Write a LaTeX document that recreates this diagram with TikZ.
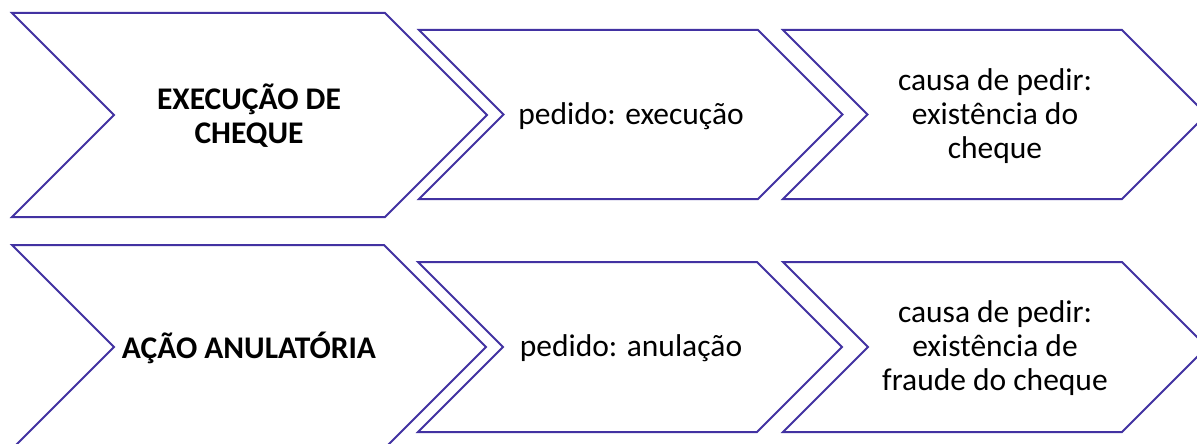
\documentclass[tikz,border=0pt]{standalone}
\usepackage{fontspec}
\setmainfont{Carlito}
\definecolor{chevblue}{HTML}{4232A2}
\newcommand{\chevron}[4]{% x1, x2, yc, h
  \draw[chevline] (#1pt,{-(#3-#4)*1pt}) -- (#2pt,{-(#3-#4)*1pt}) -- ({(#2+#4)*1pt},{-#3*1pt})
    -- (#2pt,{-(#3+#4)*1pt}) -- (#1pt,{-(#3+#4)*1pt}) -- ({(#1+#4)*1pt},{-#3*1pt}) -- cycle;}
\tikzset{
  chevline/.style={draw=chevblue, line width=2pt, line join=miter, fill=white},
  label/.style={align=center, font=\fontsize{31.5}{34}\selectfont, inner sep=0pt},
  boldlabel/.style={label, font=\fontsize{31.5}{34}\selectfont\bfseries}
}
\begin{document}
\begin{tikzpicture}
\useasboundingbox (0,0) rectangle (1197pt,-444pt);
\clip (0,0) rectangle (1197pt,-444pt);
\fill[white] (0,0) rectangle (1197pt,-444pt);
% top row
\chevron{12}{385}{115}{102}
\chevron{419}{758}{114.5}{84.5}
\chevron{783}{1122}{114.5}{84.5}
\node[boldlabel] (t1) at (249pt,-116pt) {EXECUÇÃO DE\\CHEQUE};
\node[label] (t2) at (631pt,-116pt) {pedido: execução};
\node[label] (t3) at (995pt,-116pt) {causa de pedir:\\existência do\\cheque};
% bottom row
\chevron{12}{384}{347}{102}
\chevron{418}{757}{347}{85}
\chevron{783}{1122}{347}{85}
\node[boldlabel] (b1) at (249pt,-348pt) {AÇÃO ANULATÓRIA};
\node[label] (b2) at (631pt,-348pt) {pedido: anulação};
\node[label] (b3) at (995pt,-348pt) {causa de pedir:\\existência de\\fraude do cheque};
\end{tikzpicture}
\end{document}
